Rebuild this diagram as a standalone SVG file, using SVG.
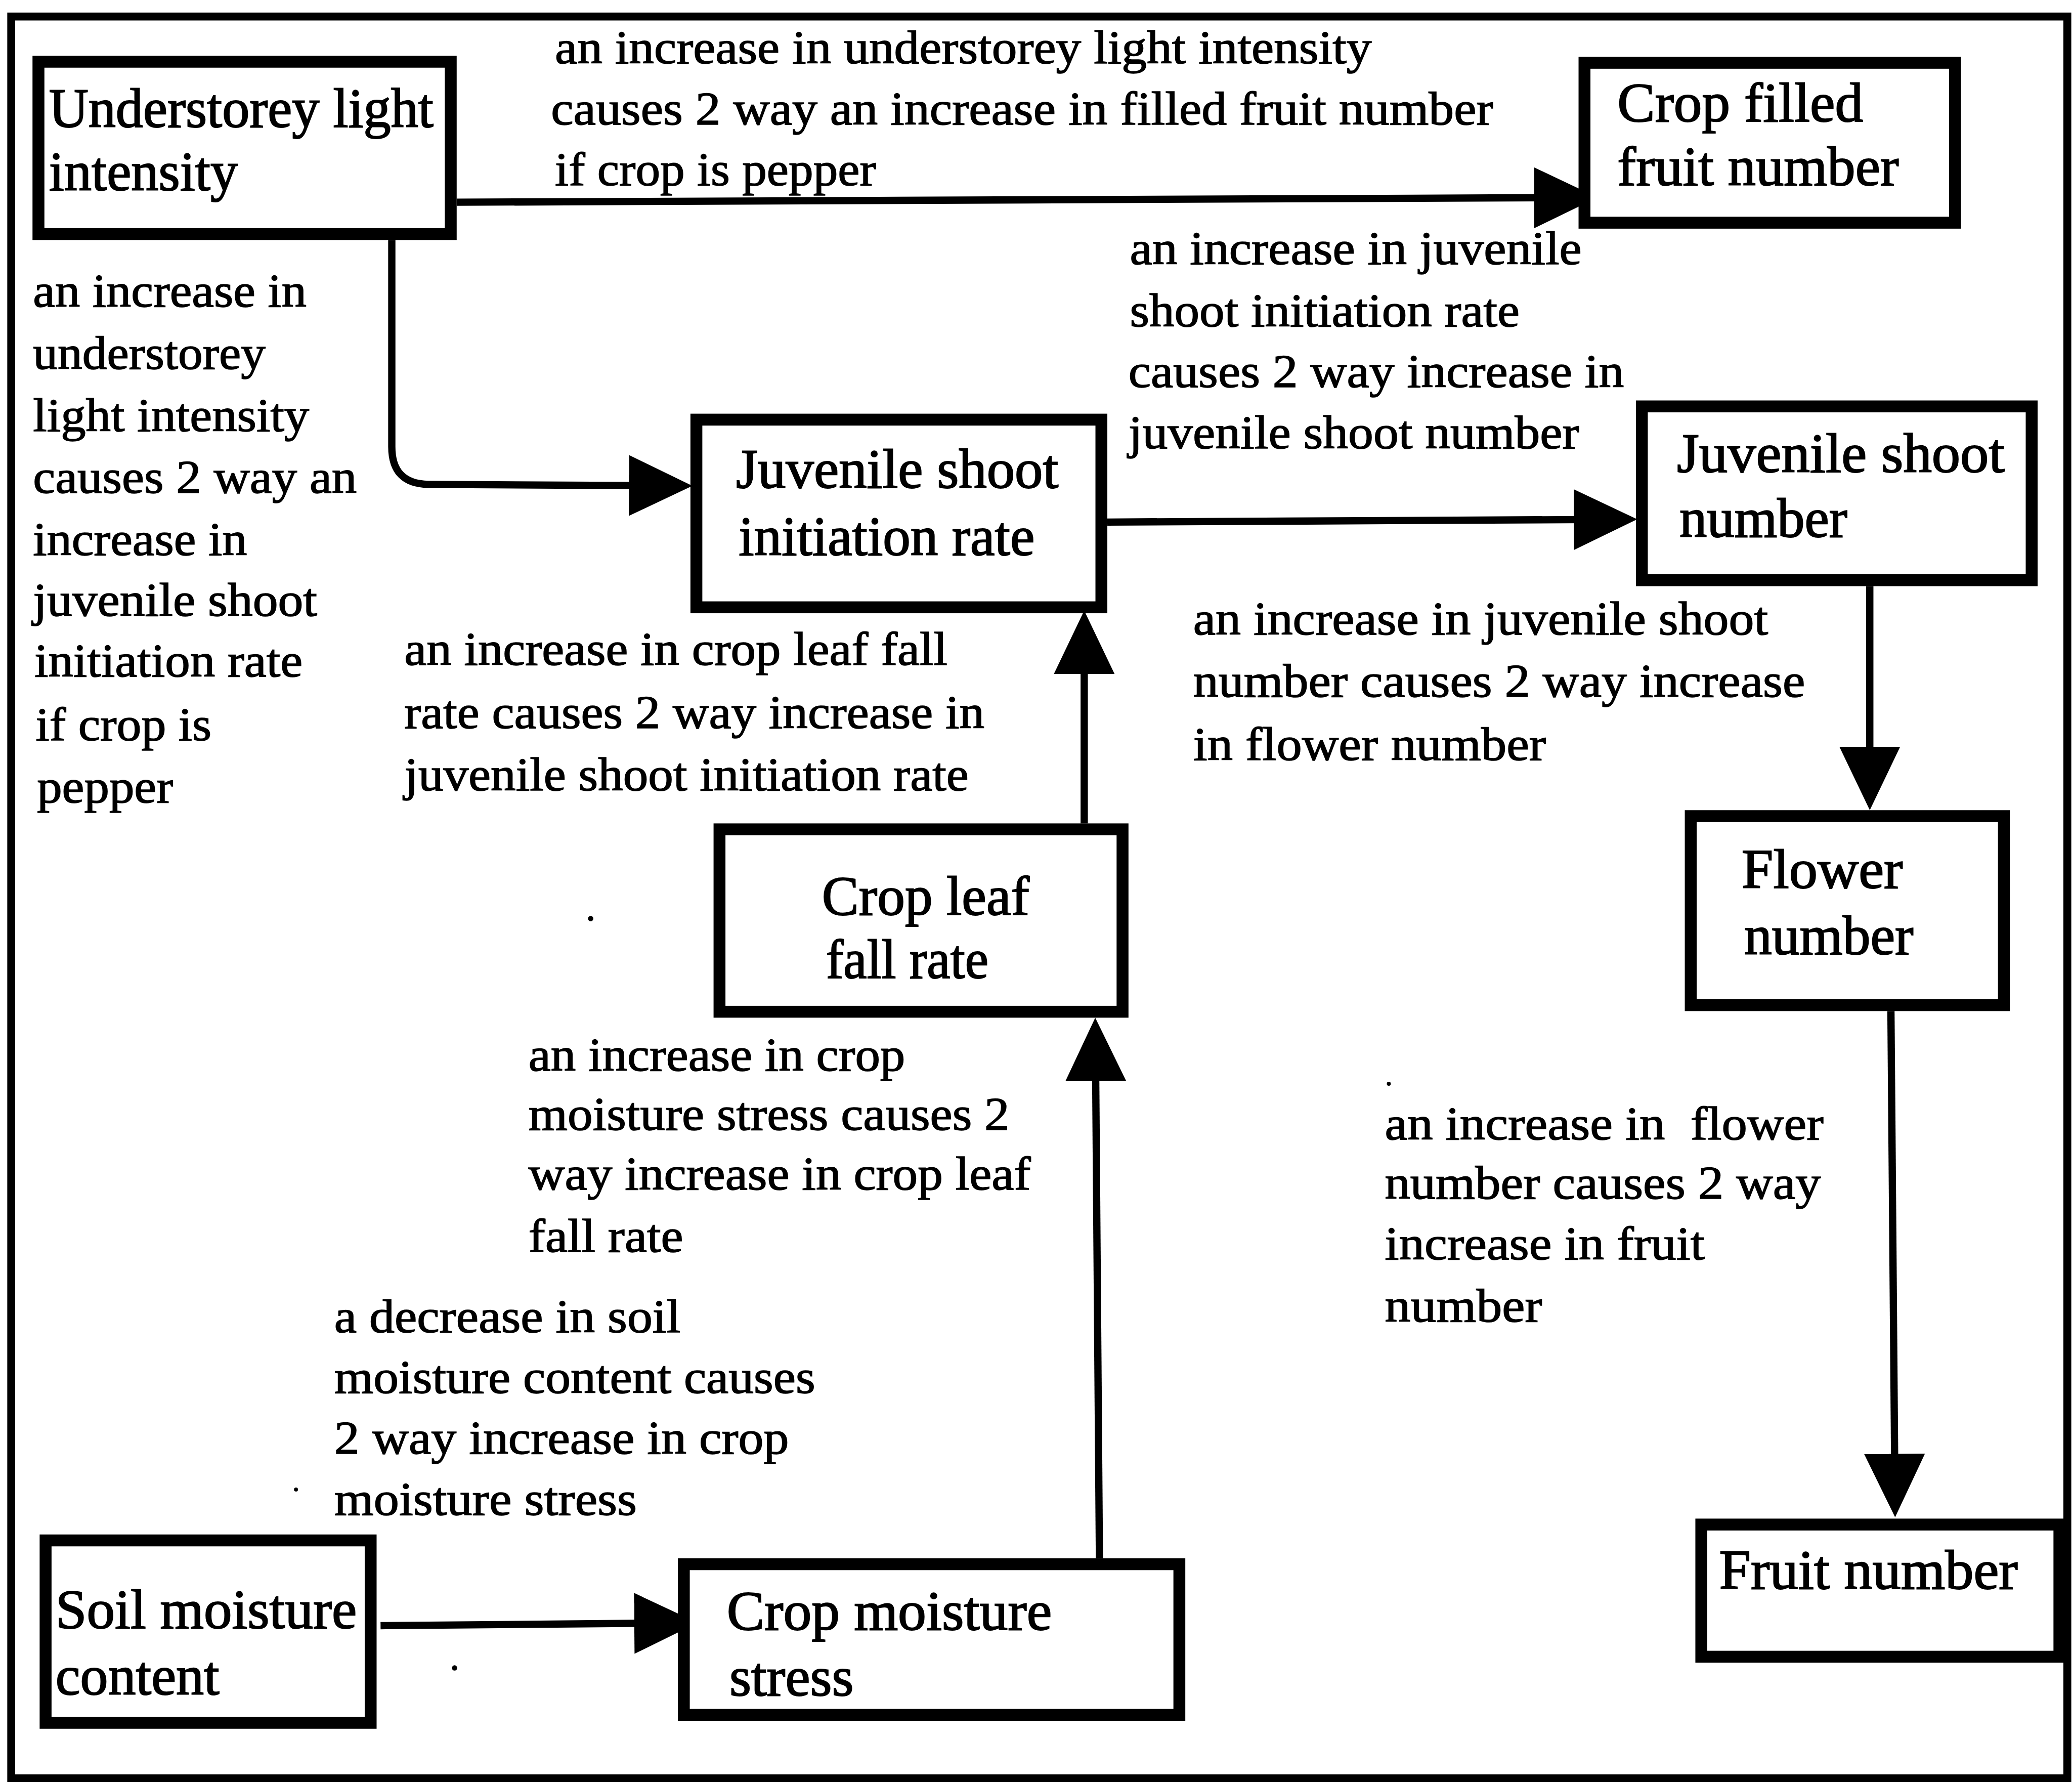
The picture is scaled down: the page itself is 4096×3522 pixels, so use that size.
<svg xmlns="http://www.w3.org/2000/svg" width="4096" height="3522" viewBox="0 0 4096 3522">
<style>
.box{fill:#fff;stroke:#000;stroke-width:9}
.frame{fill:none;stroke:#000;stroke-width:6}
.nt{font-family:"Liberation Serif","Times New Roman",serif;font-size:42px;fill:#000;stroke:#000;stroke-width:0.8}
.lt{font-family:"Liberation Serif","Times New Roman",serif;font-size:36px;fill:#000;stroke:#000;stroke-width:0.6}
.edge{fill:none;stroke:#000;stroke-width:5.5;marker-end:url(#ah)}
.speck{fill:#000}
</style>
<defs>
<marker id="ah" markerUnits="userSpaceOnUse" markerWidth="50" markerHeight="48" refX="28" refY="23" orient="auto">
<path d="M0,0 L48,23 L0,46 Z" fill="#000"/>
</marker>
</defs>
<rect width="4096" height="3522" fill="#fff"/>
<g transform="scale(2.6122)">
<rect class="frame" x="8.5" y="12.5" width="1556" height="1333"/>

<g id="connectors">
<path class="edge" d="M345.6,153 L1189,149.5"/>
<path class="edge" d="M296.5,181.6 L296.5,338 Q296.5,366 324,366.5 L504,367.5"/>
<path class="edge" d="M838,395 L1219,393"/>
<path class="edge" d="M820.5,623 L820.5,482"/>
<path class="edge" d="M832,1179 L829,790"/>
<path class="edge" d="M1415,443.5 L1415,593"/>
<path class="edge" d="M1431,765 L1434,1128"/>
<path class="edge" d="M288,1230 L508,1228"/>
</g>

<g id="node-understorey">
<rect class="box" x="29.1" y="46.7" width="312" height="130.4"/>
<text class="nt" x="37" y="96" textLength="291" lengthAdjust="spacingAndGlyphs">Understorey light</text>
<text class="nt" x="37" y="144" textLength="143" lengthAdjust="spacingAndGlyphs">intensity</text>
</g>
<g id="node-crop-filled">
<rect class="box" x="1199.1" y="47.5" width="280.4" height="121"/>
<text class="nt" x="1224" y="92" textLength="186" lengthAdjust="spacingAndGlyphs">Crop filled</text>
<text class="nt" x="1224" y="140" textLength="213" lengthAdjust="spacingAndGlyphs">fruit number</text>
</g>
<g id="node-juvenile-init">
<rect class="box" x="527" y="317.5" width="306.5" height="142"/>
<text class="nt" x="557" y="369" textLength="244" lengthAdjust="spacingAndGlyphs">Juvenile shoot</text>
<text class="nt" x="559" y="420" textLength="224" lengthAdjust="spacingAndGlyphs">initiation rate</text>
</g>
<g id="node-juvenile-number">
<rect class="box" x="1242.5" y="307.5" width="295" height="131.5"/>
<text class="nt" x="1269" y="357" textLength="248" lengthAdjust="spacingAndGlyphs">Juvenile shoot</text>
<text class="nt" x="1271" y="406" textLength="127" lengthAdjust="spacingAndGlyphs">number</text>
</g>
<g id="node-leaf-fall">
<rect class="box" x="544.5" y="627.5" width="305" height="138"/>
<text class="nt" x="622" y="692" textLength="157" lengthAdjust="spacingAndGlyphs">Crop leaf</text>
<text class="nt" x="625" y="740" textLength="123" lengthAdjust="spacingAndGlyphs">fall rate</text>
</g>
<g id="node-flower">
<rect class="box" x="1279.5" y="617.5" width="237" height="143"/>
<text class="nt" x="1318" y="672" textLength="122" lengthAdjust="spacingAndGlyphs">Flower</text>
<text class="nt" x="1320" y="722" textLength="128" lengthAdjust="spacingAndGlyphs">number</text>
</g>
<g id="node-fruit">
<rect class="box" x="1287.5" y="1153.5" width="271" height="100"/>
<text class="nt" x="1301" y="1202" textLength="226" lengthAdjust="spacingAndGlyphs">Fruit number</text>
</g>
<g id="node-soil">
<rect class="box" x="34.5" y="1165.5" width="246" height="138"/>
<text class="nt" x="42" y="1232" textLength="228" lengthAdjust="spacingAndGlyphs">Soil moisture</text>
<text class="nt" x="42" y="1282" textLength="124" lengthAdjust="spacingAndGlyphs">content</text>
</g>
<g id="node-crop-stress">
<rect class="box" x="517.5" y="1183.5" width="375" height="114"/>
<text class="nt" x="550" y="1233" textLength="246" lengthAdjust="spacingAndGlyphs">Crop moisture</text>
<text class="nt" x="552" y="1283" textLength="94" lengthAdjust="spacingAndGlyphs">stress</text>
</g>

<g id="edge-labels">
<g id="label-light-filled">
<text class="lt" x="420" y="48" textLength="618" lengthAdjust="spacingAndGlyphs">an increase in understorey light intensity</text>
<text class="lt" x="417" y="94" textLength="713" lengthAdjust="spacingAndGlyphs">causes 2 way an increase in filled fruit number</text>
<text class="lt" x="420" y="140" textLength="243" lengthAdjust="spacingAndGlyphs">if crop is pepper</text>
</g>
<g id="label-light-init">
<text class="lt" x="25" y="232" textLength="207" lengthAdjust="spacingAndGlyphs">an increase in</text>
<text class="lt" x="25" y="279" textLength="176" lengthAdjust="spacingAndGlyphs">understorey</text>
<text class="lt" x="25" y="326" textLength="209" lengthAdjust="spacingAndGlyphs">light intensity</text>
<text class="lt" x="25" y="373" textLength="245" lengthAdjust="spacingAndGlyphs">causes 2 way an</text>
<text class="lt" x="25" y="420" textLength="162" lengthAdjust="spacingAndGlyphs">increase in</text>
<text class="lt" x="25" y="466" textLength="215" lengthAdjust="spacingAndGlyphs">juvenile shoot</text>
<text class="lt" x="26" y="512" textLength="203" lengthAdjust="spacingAndGlyphs">initiation rate</text>
<text class="lt" x="27" y="560" textLength="133" lengthAdjust="spacingAndGlyphs">if crop is</text>
<text class="lt" x="28" y="607" textLength="103" lengthAdjust="spacingAndGlyphs">pepper</text>
</g>
<g id="label-init-number">
<text class="lt" x="855" y="200" textLength="342" lengthAdjust="spacingAndGlyphs">an increase in juvenile</text>
<text class="lt" x="855" y="247" textLength="295" lengthAdjust="spacingAndGlyphs">shoot initiation rate</text>
<text class="lt" x="854" y="293" textLength="375" lengthAdjust="spacingAndGlyphs">causes 2 way increase in</text>
<text class="lt" x="854" y="339" textLength="341" lengthAdjust="spacingAndGlyphs">juvenile shoot number</text>
</g>
<g id="label-leaf-init">
<text class="lt" x="306" y="503" textLength="411" lengthAdjust="spacingAndGlyphs">an increase in crop leaf fall</text>
<text class="lt" x="306" y="551" textLength="439" lengthAdjust="spacingAndGlyphs">rate causes 2 way increase in</text>
<text class="lt" x="306" y="598" textLength="427" lengthAdjust="spacingAndGlyphs">juvenile shoot initiation rate</text>
</g>
<g id="label-number-flower">
<text class="lt" x="903" y="480" textLength="435" lengthAdjust="spacingAndGlyphs">an increase in juvenile shoot</text>
<text class="lt" x="903" y="527" textLength="463" lengthAdjust="spacingAndGlyphs">number causes 2 way increase</text>
<text class="lt" x="903" y="575" textLength="267" lengthAdjust="spacingAndGlyphs">in flower number</text>
</g>
<g id="label-stress-leaf">
<text class="lt" x="400" y="810" textLength="285" lengthAdjust="spacingAndGlyphs">an increase in crop</text>
<text class="lt" x="400" y="855" textLength="364" lengthAdjust="spacingAndGlyphs">moisture stress causes 2</text>
<text class="lt" x="400" y="900" textLength="380" lengthAdjust="spacingAndGlyphs">way increase in crop leaf</text>
<text class="lt" x="400" y="947" textLength="117" lengthAdjust="spacingAndGlyphs">fall rate</text>
</g>
<g id="label-soil-stress">
<text class="lt" x="253" y="1008" textLength="262" lengthAdjust="spacingAndGlyphs">a decrease in soil</text>
<text class="lt" x="253" y="1054" textLength="364" lengthAdjust="spacingAndGlyphs">moisture content causes</text>
<text class="lt" x="253" y="1100" textLength="344" lengthAdjust="spacingAndGlyphs">2 way increase in crop</text>
<text class="lt" x="253" y="1146" textLength="229" lengthAdjust="spacingAndGlyphs">moisture stress</text>
</g>
<g id="label-flower-fruit">
<text class="lt" x="1048" y="862" textLength="332" lengthAdjust="spacingAndGlyphs" xml:space="preserve">an increase in  flower</text>
<text class="lt" x="1048" y="907" textLength="330" lengthAdjust="spacingAndGlyphs">number causes 2 way</text>
<text class="lt" x="1048" y="953" textLength="242" lengthAdjust="spacingAndGlyphs">increase in fruit</text>
<text class="lt" x="1048" y="1000" textLength="119" lengthAdjust="spacingAndGlyphs">number</text>
</g>
</g>

<g id="specks">
<circle class="speck" cx="447" cy="695" r="2"/>
<circle class="speck" cx="1051" cy="820" r="1.5"/>
<circle class="speck" cx="224" cy="1127" r="1.5"/>
<circle class="speck" cx="344" cy="1262" r="2"/>
</g>
</g>
</svg>
